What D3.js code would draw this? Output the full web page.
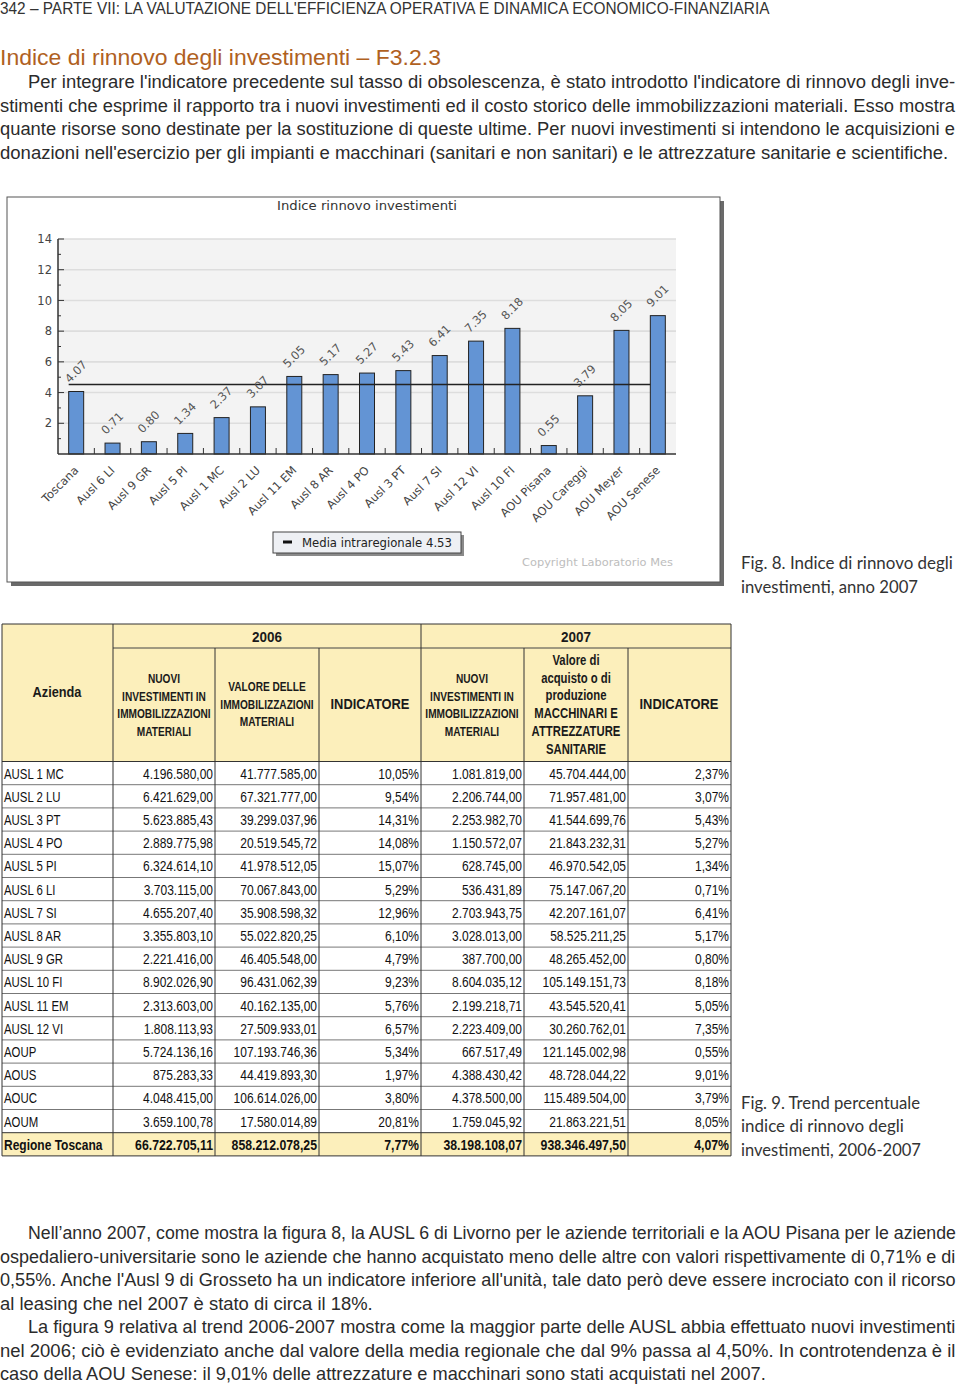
<!DOCTYPE html>
<html><head><meta charset="utf-8">
<script src="https://cdn.jsdelivr.net/npm/d3@7"></script>
<style>body{margin:0;background:#fff}svg{display:block}</style>
</head><body>
<script>
// ---------- DATA ----------
const categories = ["Toscana","Ausl 6 LI","Ausl 9 GR","Ausl 5 PI","Ausl 1 MC","Ausl 2 LU","Ausl 11 EM","Ausl 8 AR","Ausl 4 PO","Ausl 3 PT","Ausl 7 SI","Ausl 12 VI","Ausl 10 FI","AOU Pisana","AOU Careggi","AOU Meyer","AOU Senese"];
const values = [4.07,0.71,0.80,1.34,2.37,3.07,5.05,5.17,5.27,5.43,6.41,7.35,8.18,0.55,3.79,8.05,9.01];
const mediaValue = 4.53;
const yTicks = [2,4,6,8,10,12,14];
const yMinorTicks = [1,3,5,7,9,11,13];

const aziende = ["AUSL 1 MC","AUSL 2 LU","AUSL 3 PT","AUSL 4 PO","AUSL 5 PI","AUSL 6 LI","AUSL 7 SI","AUSL 8 AR","AUSL 9 GR","AUSL 10 FI","AUSL 11 EM","AUSL 12 VI","AOUP","AOUS","AOUC","AOUM","Regione Toscana"];
const nuovi2006 = ["4.196.580,00","6.421.629,00","5.623.885,43","2.889.775,98","6.324.614,10","3.703.115,00","4.655.207,40","3.355.803,10","2.221.416,00","8.902.026,90","2.313.603,00","1.808.113,93","5.724.136,16","875.283,33","4.048.415,00","3.659.100,78","66.722.705,11"];
const valore2006 = ["41.777.585,00","67.321.777,00","39.299.037,96","20.519.545,72","41.978.512,05","70.067.843,00","35.908.598,32","55.022.820,25","46.405.548,00","96.431.062,39","40.162.135,00","27.509.933,01","107.193.746,36","44.419.893,30","106.614.026,00","17.580.014,89","858.212.078,25"];
const ind2006 = ["10,05%","9,54%","14,31%","14,08%","15,07%","5,29%","12,96%","6,10%","4,79%","9,23%","5,76%","6,57%","5,34%","1,97%","3,80%","20,81%","7,77%"];
const nuovi2007 = ["1.081.819,00","2.206.744,00","2.253.982,70","1.150.572,07","628.745,00","536.431,89","2.703.943,75","3.028.013,00","387.700,00","8.604.035,12","2.199.218,71","2.223.409,00","667.517,49","4.388.430,42","4.378.500,00","1.759.045,92","38.198.108,07"];
const valore2007 = ["45.704.444,00","71.957.481,00","41.544.699,76","21.843.232,31","46.970.542,05","75.147.067,20","42.207.161,07","58.525.211,25","48.265.452,00","105.149.151,73","43.545.520,41","30.260.762,01","121.145.002,98","48.728.044,22","115.489.504,00","21.863.221,51","938.346.497,50"];
const ind2007 = ["2,37%","3,07%","5,43%","5,27%","1,34%","0,71%","6,41%","5,17%","0,80%","8,18%","5,05%","7,35%","0,55%","9,01%","3,79%","8,05%","4,07%"];

const headerLine = "342 – PARTE VII: LA VALUTAZIONE DELL'EFFICIENZA OPERATIVA E DINAMICA ECONOMICO-FINANZIARIA";
const heading = "Indice di rinnovo degli investimenti – F3.2.3";
const para1 = [
 ["Per integrare l'indicatore precedente sul tasso di obsolescenza, è stato introdotto l'indicatore di rinnovo degli inve-",28,956],
 ["stimenti che esprime il rapporto tra i nuovi investimenti ed il costo storico delle immobilizzazioni materiali. Esso mostra",0,956],
 ["quante risorse sono destinate per la sostituzione di queste ultime. Per nuovi investimenti si intendono le acquisizioni e",0,956],
 ["donazioni nell'esercizio per gli impianti e macchinari (sanitari e non sanitari) e le attrezzature sanitarie e scientifiche.",0,949]
];
const para2 = [
 ["Nell’anno 2007, come mostra la figura 8, la AUSL 6 di Livorno per le aziende territoriali e la AOU Pisana per le aziende",28,956],
 ["ospedaliero-universitarie sono le aziende che hanno acquistato meno delle altre con valori rispettivamente di 0,71% e di",0,956],
 ["0,55%. Anche l'Ausl 9 di Grosseto ha un indicatore inferiore all'unità, tale dato però deve essere incrociato con il ricorso",0,956],
 ["al leasing che nel 2007 è stato di circa il 18%.",0,373],
 ["La figura 9 relativa al trend 2006-2007 mostra come la maggior parte delle AUSL abbia effettuato nuovi investimenti",28,956],
 ["nel 2006; ciò è evidenziato anche dal valore della media regionale che dal 9% passa al 4,50%. In controtendenza è il",0,956],
 ["caso della AOU Senese: il 9,01% delle attrezzature e macchinari sono stati acquistati nel 2007.",0,766]
];

// ---------- HELPERS ----------
const svg = d3.select("body").append("svg").attr("width",960).attr("height",1389);
const BODY = "'Liberation Sans Narrow','Liberation Sans',Arial,sans-serif";
const CHART = "'DejaVu Sans',Verdana,sans-serif";
// text drawn at origin, then placed and horizontally scaled (condensed look)
function sText(parent, txt, ax, ay, o){
  const t = parent.append("text").attr("x",0).attr("y",0)
    .attr("text-anchor",o.anchor||"start").attr("font-family",o.font).attr("font-size",o.size)
    .attr("font-weight",o.weight||"normal").attr("fill",o.fill||"#111").text(txt);
  const w = t.node().getComputedTextLength();
  const f = o.width ? o.width/w : (o.factor||1);
  t.attr("transform",`translate(${ax},${ay}) scale(${f},1)`);
  return t;
}

// ---------- PAGE TEXT ----------
sText(svg, headerLine, 0, 14, {font:BODY,size:16,fill:"#333",width:770});
sText(svg, heading, 0, 65, {font:BODY,size:22,fill:"#b0611f",width:441});
para1.forEach((d,i)=> sText(svg, d[0], d[1], 88+i*23.6, {font:BODY,size:18.5,fill:"#2b2b2b",width:d[2]-d[1]}));
para2.forEach((d,i)=> sText(svg, d[0], d[1], 1239+i*23.5, {font:BODY,size:18.5,fill:"#2b2b2b",width:d[2]-d[1]}));
const CAP = "Lato,'Open Sans',sans-serif";
[["Fig. 8. Indice di rinnovo degli",569,212],["investimenti, anno 2007",593,177],
 ["Fig. 9. Trend percentuale",1109,179],["indice di rinnovo degli",1132,163],["investimenti, 2006-2007",1156,180]]
 .forEach(d=> sText(svg, d[0], 741, d[1], {font:CAP,size:17,fill:"#333",width:d[2]}));

// ---------- CHART ----------
const ch = svg.append("g");
ch.append("rect").attr("x",11).attr("y",201).attr("width",713).attr("height",385).attr("fill","#6a6a6a");
ch.append("rect").attr("x",7).attr("y",197).attr("width",713).attr("height",385).attr("fill","#fff").attr("stroke","#555").attr("stroke-width",1);
sText(ch, "Indice rinnovo investimenti", 277, 210, {font:CHART,size:12.5,fill:"#333",width:180});

const x = d3.scaleBand().domain(categories).range([58,676]).padding(0);
const y = d3.scaleLinear().domain([0,14]).range([454,239]);
const bw = x.bandwidth(), barW = 15;

ch.append("rect").attr("x",58).attr("y",y(14)).attr("width",676-58).attr("height",y(0)-y(14)).attr("fill","#f3f3f3");
ch.selectAll(".grid").data(yTicks).join("line").attr("x1",58).attr("x2",676).attr("y1",d=>y(d)).attr("y2",d=>y(d)).attr("stroke","#dddddd").attr("stroke-width",1.6);

const yAxis = d3.axisLeft(y).tickValues(yTicks).tickSize(0).tickPadding(6);
const ga = ch.append("g").attr("transform","translate(58,0)").call(yAxis);
ga.select(".domain").remove();
ga.selectAll("text").attr("font-family",CHART).attr("font-size",11.5).attr("fill","#444");
ch.append("line").attr("x1",58).attr("x2",58).attr("y1",y(14)).attr("y2",y(0)).attr("stroke","#333").attr("stroke-width",1.5);
ch.selectAll(".ytk").data(yTicks).join("line").attr("x1",58).attr("x2",64).attr("y1",d=>y(d)).attr("y2",d=>y(d)).attr("stroke","#333");
ch.selectAll(".ytm").data(yMinorTicks).join("line").attr("x1",58).attr("x2",61).attr("y1",d=>y(d)).attr("y2",d=>y(d)).attr("stroke","#333");

ch.selectAll(".bar").data(values).join("rect")
  .attr("x",(d,i)=>x(categories[i])+(bw-barW)/2).attr("y",d=>y(d))
  .attr("width",barW).attr("height",d=>y(0)-y(d))
  .attr("fill","#6394d4").attr("stroke","#222").attr("stroke-width",1);

ch.append("line").attr("x1",58).attr("x2",676).attr("y1",y(0)).attr("y2",y(0)).attr("stroke","#333").attr("stroke-width",1.5);
ch.selectAll(".xtk").data(categories.slice(1)).join("line").attr("x1",d=>x(d)).attr("x2",d=>x(d)).attr("y1",y(0)).attr("y2",y(0)-6).attr("stroke","#333");
ch.selectAll(".xl").data(categories).join("text")
  .attr("transform",d=>`translate(${x(d)+bw/2+3},${y(0)+17}) rotate(-45)`)
  .attr("text-anchor","end").attr("font-family",CHART).attr("font-size",11.5).attr("fill","#444").text(d=>d);

ch.append("line")
  .attr("x1",x(categories[0])+(bw-barW)/2).attr("x2",x(categories[categories.length-1])+(bw-barW)/2)
  .attr("y1",y(mediaValue)).attr("y2",y(mediaValue)).attr("stroke","#222").attr("stroke-width",1.5);

ch.selectAll(".vl").data(values).join("text")
  .attr("transform",(d,i)=>`translate(${x(categories[i])+(bw-barW)/2+1},${y(d)-8}) rotate(-45)`)
  .attr("font-family",CHART).attr("font-size",11.5).attr("fill","#555").text(d=>d.toFixed(2));

ch.append("rect").attr("x",276).attr("y",535).attr("width",188).attr("height",21).attr("fill","#8a8a8a");
ch.append("rect").attr("x",273).attr("y",532).attr("width",188).attr("height",21).attr("fill","#eef0f4").attr("stroke","#444");
ch.append("line").attr("x1",283).attr("x2",292).attr("y1",542).attr("y2",542).attr("stroke","#111").attr("stroke-width",3);
sText(ch, "Media intraregionale  " + mediaValue.toFixed(2), 302, 547, {font:CHART,size:11.5,fill:"#222",width:150});
sText(ch, "Copyright  Laboratorio Mes", 522, 566, {font:CHART,size:11,fill:"#bdbdbd",width:151});

// ---------- TABLE ----------
const tb = svg.append("g");
const colX = [2,113,215,319,421,524,628,731];
const tTop = 624, r1B = 648, hB = 761.5, rowH = 23.2;
const nRows = aziende.length;
const tBot = hB + nRows*rowH;
const HF = "#fcefbb";
tb.append("rect").attr("x",2).attr("y",tTop).attr("width",729).attr("height",hB-tTop).attr("fill",HF);
tb.append("rect").attr("x",2).attr("y",hB+(nRows-1)*rowH).attr("width",729).attr("height",rowH).attr("fill",HF);
tb.append("line").attr("x1",113).attr("x2",731).attr("y1",r1B).attr("y2",r1B).attr("stroke","#444");
d3.range(nRows+1).forEach(i=>{
  tb.append("line").attr("x1",2).attr("x2",731).attr("y1",hB+i*rowH).attr("y2",hB+i*rowH).attr("stroke",i===0||i===nRows-1||i===nRows?"#333":"#777");
});
colX.forEach((cx,i)=>{
  const full = (i===0||i===1||i===4||i===7);
  tb.append("line").attr("x1",cx).attr("x2",cx).attr("y1",full?tTop:r1B).attr("y2",tBot).attr("stroke","#333");
});
tb.append("line").attr("x1",2).attr("x2",731).attr("y1",tTop).attr("y2",tTop).attr("stroke","#333");

const TF = "'Liberation Sans',Arial,sans-serif";
function hText(txt,cx,yb,size,w){
  sText(tb, txt, cx, yb, {font:TF,size:size,weight:"bold",fill:"#1a1a1a",anchor:"middle",width:w,factor:0.78});
}
hText("Azienda",57,697,15.5,49);
hText("2006",267,642,15,30);
hText("2007",576,642,15,30);
["NUOVI","INVESTIMENTI IN","IMMOBILIZZAZIONI","MATERIALI"].forEach((t,i)=>{ hText(t,164,683+i*17.7,13); hText(t,472,683+i*17.7,13); });
["VALORE DELLE","IMMOBILIZZAZIONI","MATERIALI"].forEach((t,i)=>hText(t,267,691+i*17.7,13));
hText("INDICATORE",370,709,15,79);
hText("INDICATORE",679,709,15,79);
["Valore di","acquisto o di","produzione","MACCHINARI E","ATTREZZATURE","SANITARIE"].forEach((t,i)=>hText(t,576,665+i*17.7,14.5));

const cols = [nuovi2006,valore2006,ind2006,nuovi2007,valore2007,ind2007];
aziende.forEach((a,r)=>{
  const yb = hB + r*rowH + 17;
  const bold = r===nRows-1;
  sText(tb, a, 4, yb, {font:TF,size:15,weight:bold?"bold":"normal",fill:"#111",factor:bold?0.8:0.76});
  cols.forEach((arr,c)=>{
    sText(tb, arr[r], colX[c+2]-2, yb, {font:TF,size:15,weight:bold?"bold":"normal",fill:"#111",anchor:"end",factor:bold?0.82:0.8});
  });
});
</script>
</body></html>
